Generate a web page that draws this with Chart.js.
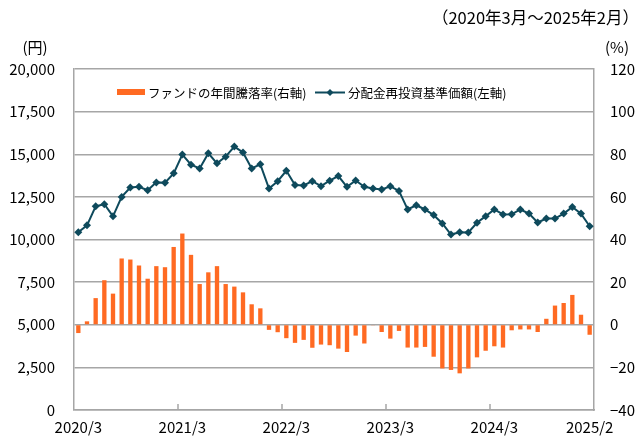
<!DOCTYPE html>
<html>
<head>
<meta charset="utf-8">
<script src="https://cdn.jsdelivr.net/npm/chart.js@4.4.1/dist/chart.umd.min.js"></script>
<style>
  html, body { margin: 0; padding: 0; background: #fff; }
</style>
</head>
<body>
<canvas id="chart" width="643" height="439"></canvas>
<script>
// months 2020/3 .. 2025/2
const months = [];
for (let y = 2020, m = 3; months.length < 60; ) {
    months.push(y + '/' + m);
    m++;
    if (m > 12) { m = 1; y++; }
}
const tickLabels = ['2020/3', '2021/3', '2022/3', '2023/3', '2024/3', '2025/2'];

// 分配金再投資基準価額 (円)
const navValues = [
    10430, 10830, 11950, 12070, 11360, 12500, 13050, 13090, 12890, 13350, 13330, 13880,
    14980, 14390, 14170, 15060, 14470, 14860, 15450, 15100, 14170, 14410, 12990, 13420,
    14030, 13190, 13170, 13420, 13130, 13450, 13720, 13090, 13460, 13090, 12990, 12930,
    13120, 12850, 11760, 12010, 11760, 11430, 10940, 10290, 10430, 10410, 10980, 11370,
    11760, 11470, 11480, 11760, 11520, 11000, 11230, 11230, 11520, 11910, 11520, 10780
];

// ファンドの年間騰落率 (%)
const returnValues = [
    -3.9, 1.6, 12.5, 20.9, 14.6, 31.1, 30.6, 27.8, 21.6, 27.5, 27.0, 36.5,
    42.8, 32.8, 19.1, 24.6, 27.5, 19.1, 17.9, 15.2, 9.6, 7.7, -2.4, -3.5,
    -6.3, -8.5, -7.1, -10.8, -9.3, -9.6, -11.2, -12.8, -5.1, -8.8, -0.3, -3.4,
    -6.5, -2.9, -10.7, -10.7, -10.4, -15.0, -20.5, -21.2, -22.8, -20.5, -15.3, -12.2,
    -10.1, -10.7, -2.6, -2.2, -2.2, -3.4, 2.8, 9.0, 10.2, 14.0, 4.7, -4.7
];

const titleText = '（2020年3月～2025年2月）';
const leftUnit = '(円)';
const rightUnit = '(%)';

const gridColor = '#a6a6a6';
const barColor = '#ff6a22';
const lineColor = '#0e4a5c';
const fontFamily = "'Noto Sans CJK JP', 'Noto Sans', sans-serif";

Chart.defaults.font.family = fontFamily;
Chart.defaults.color = '#000';

// texts, legend and the small inner ticks on the bottom axis
const extras = {
    id: 'extras',
    afterDraw(chart) {
        const ctx = chart.ctx;
        const x = chart.scales.x;
        const area = chart.chartArea;
        ctx.save();

        ctx.strokeStyle = gridColor;
        ctx.lineWidth = 1.5;
        const half = (x.getPixelForValue(1) - x.getPixelForValue(0)) / 2;
        tickLabels.slice(1, -1).forEach(l => {
            const px = Math.round(x.getPixelForValue(months.indexOf(l)) - half);
            ctx.beginPath();
            ctx.moveTo(px, area.bottom);
            ctx.lineTo(px, area.bottom - 6);
            ctx.stroke();
        });

        ctx.fillStyle = '#000';
        ctx.textBaseline = 'middle';
        ctx.font = '16.5px ' + fontFamily;
        ctx.textAlign = 'right';
        ctx.fillText(titleText, 639, 18);
        ctx.font = '15px ' + fontFamily;
        ctx.textAlign = 'center';
        ctx.fillText(leftUnit, 35, 47);
        ctx.fillText(rightUnit, 617, 47);

        // legend
        const ds = chart.data.datasets;
        ctx.font = '12.5px ' + fontFamily;
        ctx.textAlign = 'left';
        ctx.fillStyle = barColor;
        ctx.fillRect(117, 89, 28, 6);
        ctx.fillStyle = '#000';
        ctx.fillText(ds[1].label, 148, 93);

        ctx.strokeStyle = lineColor;
        ctx.lineWidth = 2;
        ctx.beginPath();
        ctx.moveTo(315, 92.5);
        ctx.lineTo(345, 92.5);
        ctx.stroke();
        ctx.fillStyle = lineColor;
        ctx.beginPath();
        ctx.moveTo(330, 89);
        ctx.lineTo(333.5, 92.5);
        ctx.lineTo(330, 96);
        ctx.lineTo(326.5, 92.5);
        ctx.closePath();
        ctx.fill();
        ctx.fillStyle = '#000';
        ctx.fillText(ds[0].label, 348, 93);

        ctx.restore();
    }
};

new Chart(document.getElementById('chart'), {
    data: {
        labels: months,
        datasets: [
            {
                type: 'line',
                label: '分配金再投資基準価額(左軸)',
                data: navValues,
                yAxisID: 'yLeft',
                borderColor: lineColor,
                backgroundColor: lineColor,
                borderWidth: 2,
                pointStyle: 'rectRot',
                pointRadius: 4,
                pointBorderWidth: 0,
                tension: 0,
                order: 0
            },
            {
                type: 'bar',
                label: 'ファンドの年間騰落率(右軸)',
                data: returnValues,
                yAxisID: 'yRight',
                backgroundColor: barColor,
                barPercentage: 0.5,
                categoryPercentage: 1,
                order: 1
            }
        ]
    },
    options: {
        responsive: false,
        animation: false,
        layout: { padding: { top: 69, left: 0, right: 0, bottom: 0 } },
        plugins: {
            legend: { display: false },
            tooltip: { enabled: false }
        },
        scales: {
            x: {
                type: 'category',
                offset: true,
                grid: { display: false, drawTicks: false },
                border: { display: true, color: gridColor, width: 1.5 },
                ticks: {
                    autoSkip: false,
                    maxRotation: 0,
                    padding: 8,
                    font: { size: 15 },
                    callback: function (v) {
                        const l = this.getLabelForValue(v);
                        return tickLabels.includes(l) ? l : '';
                    }
                },
                afterFit: s => { s.height = 29; }
            },
            yLeft: {
                type: 'linear',
                position: 'left',
                min: 0,
                max: 20000,
                grid: { color: gridColor, lineWidth: 1.5, drawTicks: false },
                border: { display: true, color: gridColor, width: 1.5 },
                ticks: {
                    stepSize: 2500,
                    padding: 19,
                    font: { size: 15 },
                    callback: v => v.toLocaleString('en-US')
                },
                afterFit: s => { s.width = 74; }
            },
            yRight: {
                type: 'linear',
                position: 'right',
                min: -40,
                max: 120,
                grid: { drawOnChartArea: false, drawTicks: false },
                border: { display: true, color: gridColor, width: 1.5 },
                ticks: {
                    stepSize: 20,
                    padding: 16,
                    font: { size: 15 },
                    callback: v => (v < 0 ? '−' + Math.abs(v) : String(v))
                },
                afterFit: s => { s.width = 49; }
            }
        }
    },
    plugins: [extras]
});
</script>
</body>
</html>
